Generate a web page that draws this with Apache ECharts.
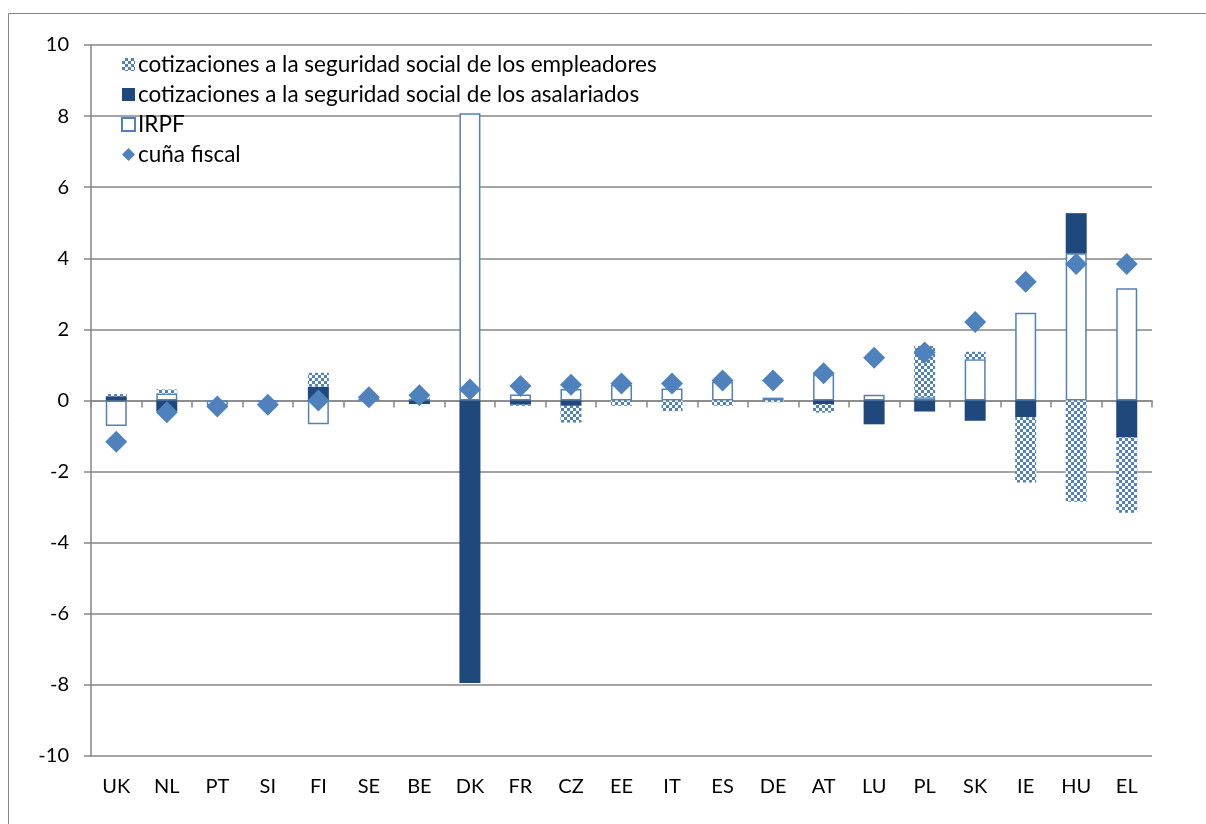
<!DOCTYPE html>
<html>
<head>
<meta charset="utf-8">
<script src="https://cdn.jsdelivr.net/npm/echarts@6/dist/echarts.min.js"></script>
<style>
  html, body { margin: 0; padding: 0; background: #fff; }
  #main { width: 1206px; height: 824px; }
</style>
</head>
<body>
<div id="main"></div>
<script>
// paises
var paises = ['UK', 'NL', 'PT', 'SI', 'FI', 'SE', 'BE', 'DK', 'FR', 'CZ', 'EE',
              'IT', 'ES', 'DE', 'AT', 'LU', 'PL', 'SK', 'IE', 'HU', 'EL'];
// IRPF
var irpf = [-0.72, 0.2, -0.15, -0.05, -0.67, 0.05, 0.05, 8.08, 0.17, 0.32, 0.44,
            0.34, 0.53, 0.08, 0.74, 0.16, 0.09, 1.16, 2.47, 4.14, 3.16];
// cotizaciones de los asalariados
var asalariados = [0.12, -0.3, 0, 0, 0.39, 0, -0.1, -7.95, -0.12, -0.15, 0,
                   0, 0, 0, -0.1, -0.67, -0.31, -0.57, -0.47, 1.13, -1.04];
// cotizaciones de los empleadores
var empleadores = [0.06, 0.11, 0, 0, 0.39, 0, 0.03, 0, -0.03, -0.47, -0.15,
                   -0.3, -0.15, -0.05, -0.24, 0, 1.44, 0.21, -1.84, -2.85, -2.12];
// cuña fiscal
var cuna = [-1.16, -0.33, -0.17, -0.12, 0.0, 0.09, 0.15, 0.31, 0.41, 0.44, 0.48,
            0.48, 0.56, 0.56, 0.77, 1.2, 1.35, 2.21, 3.34, 3.84, 3.84];

var azul = '#4F81BD';
var azulOscuro = '#1F497D';
var fuente = 'Lato, "Liberation Sans", sans-serif';

// trama a cuadros para los empleadores
var trama = document.createElement('canvas');
trama.width = 6;
trama.height = 6;
var ctx = trama.getContext('2d');
ctx.fillStyle = azul;
ctx.fillRect(0, 0, 6, 6);
ctx.fillStyle = '#ffffff';
ctx.fillRect(0, 0, 3, 3);
ctx.fillRect(3, 3, 3, 3);
var cuadros = { image: trama, repeat: 'repeat' };

var myChart = echarts.init(document.getElementById('main'));
myChart.setOption({
    animation: false,
    graphic: [{
        type: 'rect',
        shape: { x: 8.5, y: 13.5, width: 1210, height: 820 },
        style: { fill: null, stroke: '#868686', lineWidth: 1 },
        silent: true
    }],
    legend: {
        orient: 'vertical',
        left: 116,
        top: 48,
        itemWidth: 13,
        itemHeight: 13,
        itemGap: 7,
        textStyle: { fontFamily: fuente, fontSize: 22.5, color: '#000', padding: [0, 0, 0, -2] },
        data: [
            { name: 'cotizaciones a la seguridad social de los empleadores', icon: 'rect' },
            { name: 'cotizaciones a la seguridad social de los asalariados', icon: 'rect' },
            { name: 'IRPF', icon: 'rect' },
            { name: 'cuña fiscal', icon: 'diamond' }
        ]
    },
    grid: { left: 91, right: 54, top: 45, bottom: 68 },
    xAxis: [{
        type: 'category',
        data: paises,
        position: 'bottom',
        axisLine: { show: false, onZero: false },
        axisTick: { show: false },
        axisLabel: { margin: 21, fontFamily: fuente, fontSize: 20, color: '#000' }
    }, {
        type: 'category',
        data: paises,
        position: 'bottom',
        axisLine: { onZero: true, lineStyle: { color: '#868686', width: 1.5 } },
        axisTick: { show: true, length: 7, lineStyle: { color: '#868686', width: 1.5 } },
        axisLabel: { show: false }
    }],
    yAxis: {
        type: 'value',
        min: -10,
        max: 10,
        interval: 2,
        axisLine: { show: true, lineStyle: { color: '#868686', width: 1.5 } },
        axisTick: { show: true, length: 7, lineStyle: { color: '#868686', width: 1.5 } },
        axisLabel: { margin: 22, fontFamily: fuente, fontSize: 20, color: '#000' },
        splitLine: { lineStyle: { color: '#868686', width: 1.5 } }
    },
    series: [{
        name: 'IRPF',
        type: 'bar',
        stack: 'total',
        barWidth: 21,
        data: irpf,
        itemStyle: { color: '#fff', borderColor: azul, borderWidth: 1.5 }
    }, {
        name: 'cotizaciones a la seguridad social de los asalariados',
        type: 'bar',
        stack: 'total',
        barWidth: 21,
        data: asalariados,
        itemStyle: { color: azulOscuro, borderColor: azulOscuro, borderWidth: 0 }
    }, {
        name: 'cotizaciones a la seguridad social de los empleadores',
        type: 'bar',
        stack: 'total',
        barWidth: 21,
        data: empleadores,
        itemStyle: { color: cuadros, borderWidth: 0 }
    }, {
        name: 'cuña fiscal',
        type: 'scatter',
        symbol: 'diamond',
        symbolSize: [22, 22],
        data: cuna,
        z: 5,
        itemStyle: { color: azul, opacity: 1 }
    }]
});
</script>
</body>
</html>
